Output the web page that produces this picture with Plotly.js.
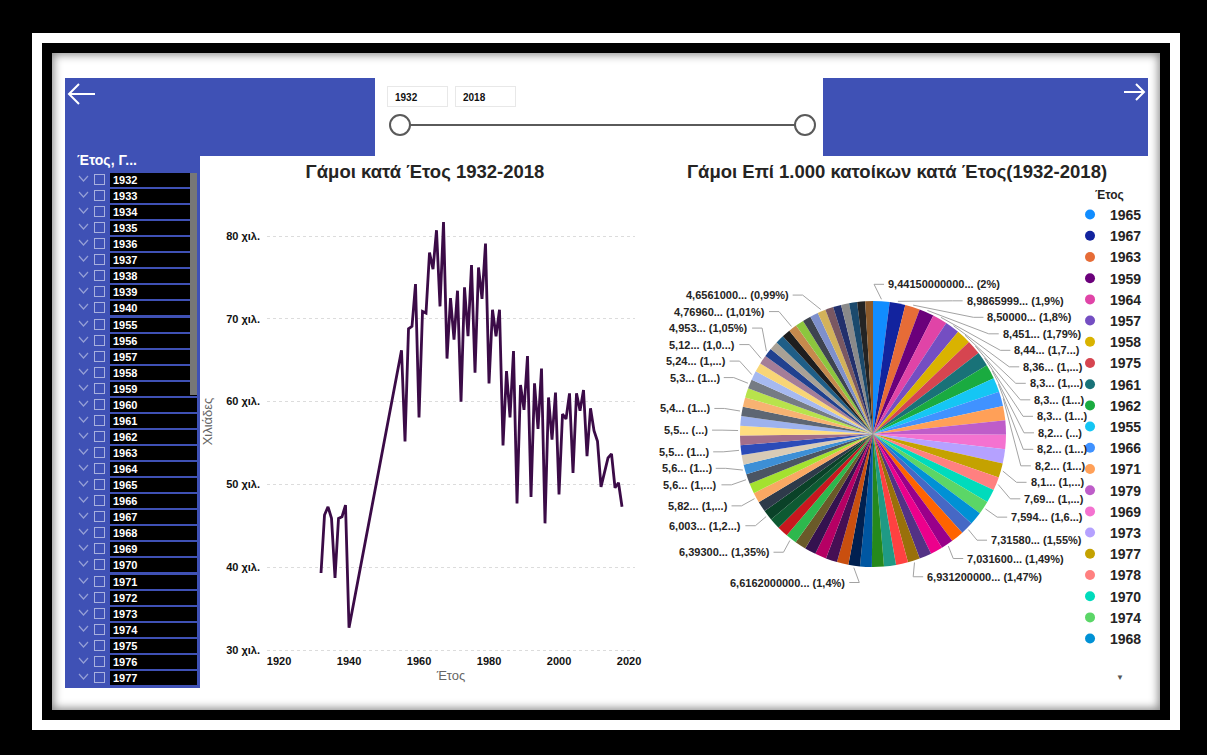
<!DOCTYPE html>
<html><head><meta charset="utf-8">
<script src="https://cdn.plot.ly/plotly-3.0.1.min.js"></script>
<style>
html,body{margin:0;padding:0;background:#000;width:1207px;height:755px;overflow:hidden;font-family:"Liberation Sans",Arial,sans-serif;}
.abs{position:absolute;}
#frame1{left:32px;top:33px;width:1148px;height:697px;background:#fff;}
#frame2{left:42px;top:43px;width:1128px;height:677px;background:#000;}
#canvas{left:52px;top:53px;width:1108px;height:657px;background:#fff;box-shadow:inset 0 0 9px 2px rgba(0,0,0,0.45);}
.blue{background:#3F51B5;}
.ybox{top:86px;height:21px;width:61px;border:1px solid #e8e8e8;font-weight:bold;font-size:10px;line-height:21px;padding-left:7px;box-sizing:border-box;color:#111;}
.row{left:70px;height:14px;width:127px;}
.row .chev{position:absolute;left:8px;top:2px;}
.row .chk{position:absolute;left:24px;top:1px;width:11px;height:11px;border:1px solid rgba(255,255,255,0.55);box-sizing:border-box;}
.row .yr{position:absolute;left:40px;top:0;width:87px;height:14px;background:#000;color:#fff;font-weight:bold;font-size:11px;line-height:14px;padding-left:3px;box-sizing:border-box;}
</style></head>
<body>
<div id="frame1" class="abs"></div>
<div id="frame2" class="abs"></div>
<div id="canvas" class="abs"></div>
<div class="abs blue" style="left:65px;top:78px;width:310px;height:78px;"></div>
<div class="abs blue" style="left:65px;top:78px;width:135px;height:610px;"></div>
<div class="abs blue" style="left:823px;top:78px;width:325px;height:78px;"></div>
<svg class="abs" style="left:66px;top:80px" width="32" height="30"><path d="M3 14 H29 M13 4 L3 14 L13 24" stroke="#fff" stroke-width="2" fill="none"/></svg>
<svg class="abs" style="left:1122px;top:80px" width="26" height="24"><path d="M2 12 H22 M14 4 L22 12 L14 20" stroke="#fff" stroke-width="2" fill="none"/></svg>
<div id="box1" class="abs ybox" style="left:387px;"></div>
<div id="box2" class="abs ybox" style="left:455px;"></div>
<div class="abs" style="left:400px;top:124px;width:405px;height:2px;background:#5a5a5a;"></div>
<div class="abs" style="left:389px;top:114px;width:22px;height:22px;border:2px solid #5a5a5a;border-radius:50%;background:#fff;box-sizing:border-box;"></div>
<div class="abs" style="left:794px;top:114px;width:22px;height:22px;border:2px solid #5a5a5a;border-radius:50%;background:#fff;box-sizing:border-box;"></div>
<div class="abs" style="left:77px;top:152px;color:#fff;font-weight:bold;font-size:14px;">Έτος, Γ...</div>
<div id="slicer"></div>
<div class="abs" style="left:190px;top:173px;width:7px;height:222px;background:#777;"></div>
<div id="line" class="abs" style="left:200px;top:156px;width:450px;height:532px;"></div>
<div id="pie" class="abs" style="left:650px;top:156px;width:498px;height:532px;"></div>
<script>
// ---- data ----
const years = [1932,1933,1934,1935,1936,1937,1938,1939,1940,
  1955,1956,1957,1958,1959,1960,1961,1962,1963,1964,1965,1966,1967,1968,1969,
  1970,1971,1972,1973,1974,1975,1976,1977,1978,1979,1980,1981,1982,1983,1984,
  1985,1986,1987,1988,1989,1990,1991,1992,1993,1994,1995,1996,1997,1998,1999,
  2000,2001,2002,2003,2004,2005,2006,2007,2008,2009,2010,2011,2012,2013,2014,
  2015,2016,2017,2018];
// marriages, thousands
const marriages = [39.3,46.3,47.3,45.9,38.7,45.9,46.1,47.5,32.7,
  66.2,55.2,68.8,69.1,74.2,58.1,70.9,70.7,78.0,76.0,80.7,71.5,81.7,65.2,72.5,
  67.5,73.4,60.0,73.8,67.9,76.5,63.5,76.2,72.4,79.1,62.2,71.1,67.9,71.1,54.7,
  63.7,58.1,66.1,47.7,62.0,59.0,65.5,48.5,62.2,56.7,64.0,45.3,60.5,55.4,61.1,
  48.8,58.5,57.9,61.0,51.4,61.0,58.9,61.4,53.4,59.2,56.5,55.2,49.7,51.6,53.2,
  53.7,49.6,50.2,47.3];
// marriages per 1.000 inhabitants
const ratePer1000 = [6.24,6.99,6.92,6.76,5.54,6.60,6.56,6.52,4.64,
  8.27,6.88,8.36,8.35,8.451,7.0316,8.32,8.29,8.50,8.44,9.4415,8.25,8.9866,7.50,8.19,
  7.67,8.22,6.84,8.19,7.594,8.34,7.01,8.18,7.69,8.20,6.48,7.3158,6.9312,7.30,5.47,
  6.45,5.81,6.6162,4.7696,6.34,5.82,6.393,4.75,5.99,5.40,6.003,4.45,5.64,5.12,5.66,
  4.62,5.37,5.24,5.60,4.6561,5.50,5.30,5.55,4.88,5.39,5.18,4.953,4.58,4.76,4.94,
  4.95,4.65,4.69,4.55];
const labeledYears = [1965,1967,1963,1959,1964,1957,1958,1975,1961,1962,1955,1966,1977,1978,1974,1981,1960,1982,
  1987,1991,1995,1990,1999,1997,2007,2005,1994,2006,2002,1998,2011,1988,2004];
const labeledTexts = ["9,44150000000... (2%)","8,9865999... (1,9%)","8,50000... (1,8%)","8,451... (1,79%)",
  "8,44... (1,7...)","8,36... (1,...)","8,3... (1,...)","8,3... (1...)","8,3... (1...)","8,2... (...)",
  "8,2... (1...)","8,2... (1...)","8,1... (1,...)","7,69... (1,...)","7,594... (1,6...)","7,31580... (1,55%)",
  "7,031600... (1,49%)","6,931200000... (1,47%)","6,6162000000... (1,4%)","6,39300... (1,35%)",
  "6,003... (1,2...)","5,82... (1,...)","5,6... (1,...)","5,6... (1...)","5,5... (1...)","5,5... (...)",
  "5,4... (1...)","5,3... (1...)","5,24... (1,...)","5,12... (1,0...)","4,953... (1,05%)",
  "4,76960... (1,01%)","4,6561000... (0,99%)"];
const yTickVals = [30, 40, 50, 60, 70, 80];
const yTickText = ["30 χιλ.", "40 χιλ.", "50 χιλ.", "60 χιλ.", "70 χιλ.", "80 χιλ."];
const sliderRange = [1932, 2018];
const slicerYears = years.slice(0, 32);
const legendCount = 21;
const lineTitle = "Γάμοι κατά Έτος 1932-2018";
const pieTitle = "Γάμοι Επί 1.000 κατοίκων κατά Έτος(1932-2018)";

// ---- slicer & slider (html) ----
document.getElementById('box1').textContent = sliderRange[0];
document.getElementById('box2').textContent = sliderRange[1];
const sl = document.getElementById('slicer');
slicerYears.forEach((y, i) => {
  const r = document.createElement('div');
  r.className = 'abs row';
  r.style.top = (173 + i * 16.06) + 'px';
  r.innerHTML = '<svg class="chev" width="11" height="8"><path d="M1 1 L5.5 6 L10 1" stroke="rgba(255,255,255,0.45)" stroke-width="1.2" fill="none"/></svg><div class="chk"></div><div class="yr">' + y + '</div>';
  sl.appendChild(r);
});

// ---- palette (Power BI style) ----
const palette = ["#118DFF","#12239E","#E66C37","#6B007B","#E044A7","#744EC2","#D9B300","#D64550","#197278","#1AAB40",
 "#15C6F4","#4092FF","#FFA058","#BE5DC9","#F472D0","#B5A1FF","#C4A200","#FF8080","#00DBBC","#5BD667",
 "#0091D5","#4668C5","#FF6300","#99008A","#EC008C","#533285","#99700A","#FF4141","#1F9A85","#25891C",
 "#0057A2","#002050","#C94F0F","#450F54","#B60064","#34124F","#6A5A29","#2DB84D","#C8171E","#0E5A32",
 "#0A4228","#2E3A4A","#F9A863","#A4E22F","#4B5563","#3D8FD6","#D9CBB6","#2C4BB8","#A26E8A","#FFDD80",
 "#9DB2EE","#5D6673","#F7B272","#B8E34C","#757B84","#A6B9F0","#F8D576","#A47D98","#21418F","#A9A196",
 "#1F5E87","#1E1E1E","#C68A4D","#8CC63E","#3E4450","#7E90CC","#D3B25A","#7A5862","#22306C","#8A8A8A",
 "#1B4A6D","#242424","#8B5A2B"];

const FAM = '"Liberation Sans", Arial, sans-serif';
const boldFont = (size, color) => ({family: FAM, size: size, weight: 'bold', color: color || '#252423'});

// ---- line chart ----
Plotly.newPlot('line', [{
  type: 'scatter', mode: 'lines', x: years, y: marriages,
  line: {color: '#3B0B47', width: 2.8}, hoverinfo: 'skip'
}], {
  width: 450, height: 532,
  margin: {l: 67, r: 15, t: 34, b: 35},
  paper_bgcolor: 'rgba(0,0,0,0)', plot_bgcolor: 'rgba(0,0,0,0)',
  showlegend: false,
  title: {text: lineTitle, font: boldFont(18.5), x: 0.5, xanchor: 'center', xref: 'container', y: 0.97, yref: 'container', yanchor: 'middle'},
  xaxis: {range: [1916.57, 2021.71], dtick: 20, tick0: 1920, showgrid: false, zeroline: false, showline: false, ticks: '',
    tickfont: boldFont(11, '#111'), automargin: false,
    title: {text: 'Έτος', font: {family: FAM, size: 13, color: '#666'}, standoff: 4}},
  yaxis: {range: [29.64, 85.56], tickvals: yTickVals, ticktext: yTickText, showgrid: true, gridcolor: '#dcdcdc', griddash: 'dot',
    zeroline: false, showline: false, ticks: '', tickfont: boldFont(11, '#111'), automargin: false, ticklabelstandoff: 6,
    title: {text: 'Χιλιάδες', font: {family: FAM, size: 13, color: '#666'}, standoff: 10}}
}, {staticPlot: true});

// ---- pie chart ----
const W = 498, H = 532;
const dom = {x: [0.1807, 0.7149], y: [0.2274, 0.7274]};
const CX = W * (dom.x[0] + dom.x[1]) / 2, CY = H * (1 - (dom.y[0] + dom.y[1]) / 2);
const RP = Math.min(W * (dom.x[1] - dom.x[0]), H * (dom.y[1] - dom.y[0])) / 2;
const RY = RP + 17, RX = RP + 27, GAP = 16.5;

const sliceText = years.map(y => { const k = labeledYears.indexOf(y); return k >= 0 ? labeledTexts[k] : ''; });
const order = years.map((y, i) => i).sort((a, b) => ratePer1000[b] - ratePer1000[a]);
const total = ratePer1000.reduce((a, b) => a + b, 0);

// outside labels laid out from the slice angles (Power BI style columns)
let cum = 0; const items = [];
order.forEach(idx => {
  const v = ratePer1000[idx], mid = cum + v / 2; cum += v;
  if (sliceText[idx]) { const th = 2 * Math.PI * mid / total; items.push({t: sliceText[idx], th: th, nat: CY - RY * Math.cos(th)}); }
});
const right = items.filter(d => d.th < Math.PI), left = items.filter(d => d.th >= Math.PI);
right.forEach((d, i) => { d.y = i === 0 ? d.nat : Math.max(d.nat, right[i - 1].y + GAP); d.s = 1; });
left.forEach((d, i) => { d.y = i === 0 ? d.nat : Math.min(d.nat, left[i - 1].y - GAP); d.s = -1; });
const annots = [], shapes = [];
const px = v => v / W, py = v => 1 - v / H;
items.forEach(d => {
  const pushed = Math.abs(d.y - d.nat) > 0.5;
  const off = pushed ? Math.sqrt(Math.max(0, RX * RX - (d.y - CY) * (d.y - CY))) : RX * Math.abs(Math.sin(d.th));
  const tx = CX + d.s * (off + 4);
  const ex = CX + (RP + 2) * Math.sin(d.th), ey = CY - (RP + 2) * Math.cos(d.th);
  shapes.push({type: 'path', xref: 'paper', yref: 'paper', layer: 'above',
    path: 'M' + px(ex) + ',' + py(ey) + ' L' + px(tx - d.s * 13) + ',' + py(d.y) + ' L' + px(tx - d.s * 3) + ',' + py(d.y),
    line: {color: '#a3a3a3', width: 1}});
  annots.push({xref: 'paper', yref: 'paper', x: px(tx), y: py(d.y), xanchor: d.s > 0 ? 'left' : 'right', yanchor: 'middle',
    text: d.t, showarrow: false, font: boldFont(11, '#252423'), borderpad: 0});
});

const legendTraces = order.slice(0, legendCount).map((idx, rank) => ({
  type: 'scatter', mode: 'markers', x: [null], y: [null], name: String(years[idx]),
  marker: {color: palette[rank], size: 10, symbol: 'circle'}, showlegend: true, hoverinfo: 'skip'
}));
annots.push({text: 'Έτος', xref: 'paper', yref: 'paper', x: 0.8896, y: 0.9267, xanchor: 'left', yanchor: 'middle', showarrow: false, font: boldFont(12)});
annots.push({text: '▼', xref: 'paper', yref: 'paper', x: 0.944, y: 0.0207, xanchor: 'center', yanchor: 'middle', showarrow: false, font: {size: 8, color: '#555'}});

Plotly.newPlot('pie', [{
  type: 'pie', labels: years.map(String), values: ratePer1000,
  textinfo: 'none', sort: true, direction: 'clockwise', rotation: 0, showlegend: false,
  marker: {line: {width: 0}}, domain: dom, hoverinfo: 'skip'
}].concat(legendTraces), {
  width: W, height: H,
  margin: {l: 0, r: 0, t: 0, b: 0},
  paper_bgcolor: 'rgba(0,0,0,0)', plot_bgcolor: 'rgba(0,0,0,0)',
  piecolorway: palette,
  xaxis: {visible: false}, yaxis: {visible: false},
  title: {text: pieTitle, font: boldFont(18.5), x: 0.496, xanchor: 'center', xref: 'container', y: 0.97, yref: 'container', yanchor: 'middle'},
  legend: {x: 0.8434, xanchor: 'left', y: 0.9192, yanchor: 'top', font: boldFont(14, '#252423'), bgcolor: 'rgba(0,0,0,0)', traceorder: 'normal'},
  annotations: annots, shapes: shapes
}, {staticPlot: true});
</script>
</body></html>
